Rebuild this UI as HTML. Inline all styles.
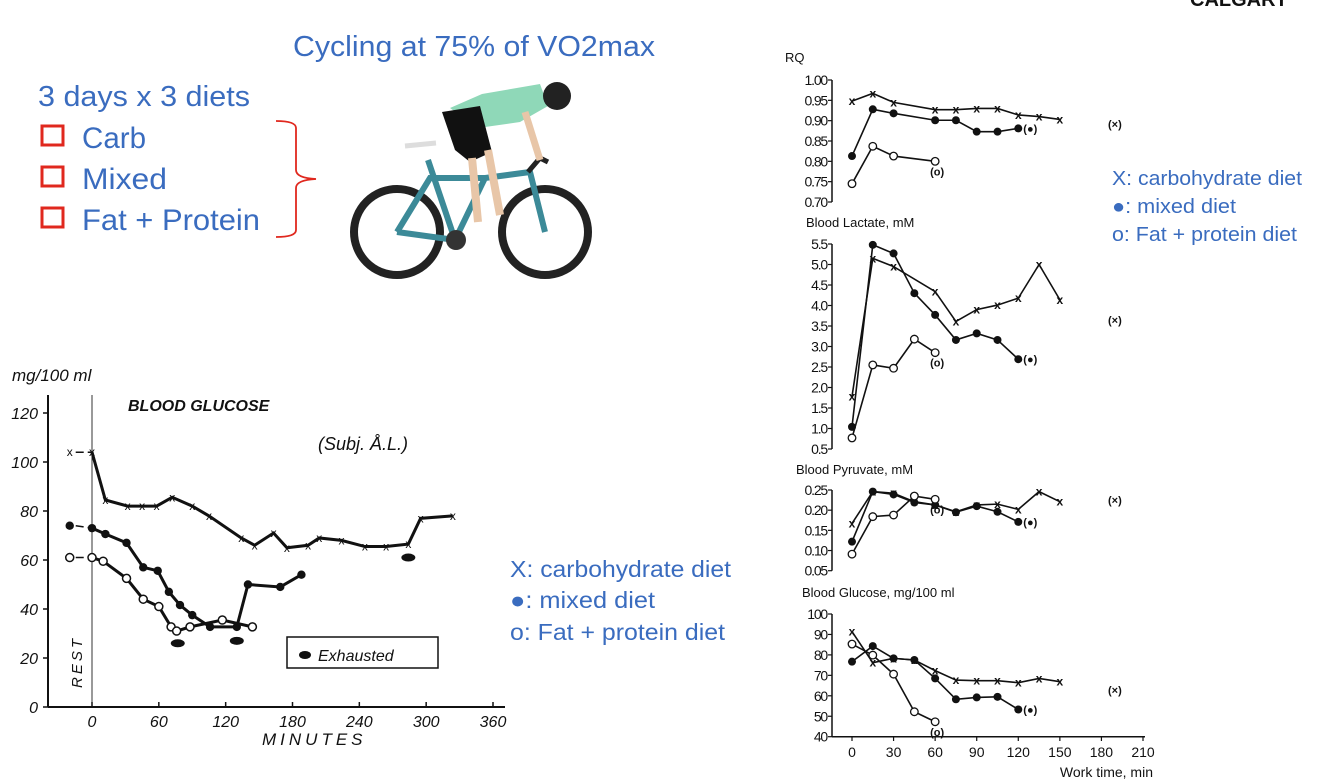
<!DOCTYPE html>
<html><head><meta charset="utf-8"><style>
html,body{margin:0;padding:0;background:#fff;}
svg{display:block;}
.b{fill:#3a6cbf;font-family:"Liberation Sans",sans-serif;}
.k{fill:#111;font-family:"Liberation Sans",sans-serif;}
.hand{fill:#111;font-family:"Liberation Sans",sans-serif;font-style:italic;}
</style></head><body>
<svg id="s" width="1334" height="780" viewBox="0 0 1334 780" xmlns="http://www.w3.org/2000/svg">
<text x="1190" y="6" class="k" font-weight="bold" font-size="20">CALGARY</text>
<text x="293" y="56" class="b" font-size="29" textLength="362" lengthAdjust="spacingAndGlyphs">Cycling at 75% of VO2max</text>
<text x="38" y="106" class="b" font-size="29" textLength="212" lengthAdjust="spacingAndGlyphs">3 days x 3 diets</text>
<g fill="none" stroke="#e0281e" stroke-width="3">
<rect x="42" y="126" width="21" height="19"/>
<rect x="42" y="167" width="21" height="19"/>
<rect x="42" y="208" width="21" height="19"/>
<path d="M276 121 Q296 121 296 128 L296 170 Q296 178 316 179 Q296 180 296 188 L296 230 Q296 237 276 237" stroke-width="1.8"/>
</g>
<text x="82" y="148" class="b" font-size="30" textLength="64" lengthAdjust="spacingAndGlyphs">Carb</text>
<text x="82" y="189" class="b" font-size="30" textLength="85" lengthAdjust="spacingAndGlyphs">Mixed</text>
<text x="82" y="230" class="b" font-size="30" textLength="178" lengthAdjust="spacingAndGlyphs">Fat + Protein</text>
<g>
<circle cx="397" cy="232" r="43" fill="none" stroke="#222" stroke-width="8"/>
<circle cx="545" cy="232" r="43" fill="none" stroke="#222" stroke-width="8"/>
<path d="M397 232 L455 240 L485 178 L530 172 L545 232 M455 240 L428 160 M485 178 L430 178 L397 232" fill="none" stroke="#3c8a98" stroke-width="6"/>
<path d="M528 172 L540 158 L548 162" fill="none" stroke="#222" stroke-width="5"/>
<path d="M405 146 L436 143" stroke="#ddd" stroke-width="5"/>
<path d="M450 108 L482 94 L540 84 L548 106 L520 122 L478 128 Z" fill="#8fd8b8"/>
<path d="M442 112 L480 106 L492 152 L470 162 L455 150 Z" fill="#111"/>
<path d="M472 158 L478 222 M488 150 L500 215" stroke="#e8c6a8" stroke-width="8" fill="none"/>
<path d="M525 112 L540 160" stroke="#e8c6a8" stroke-width="7"/>
<circle cx="557" cy="96" r="14" fill="#222"/>
<circle cx="456" cy="240" r="10" fill="#333"/>
</g>

<g id="L"></g>
<text x="12" y="381" class="hand" font-size="17">mg/100 ml</text>
<text x="128" y="411" class="hand" font-weight="bold" font-size="16">BLOOD GLUCOSE</text>
<text x="318" y="450" class="hand" font-size="18">(Subj. Å.L.)</text>
<text x="0" y="0" class="hand" font-size="15" transform="translate(82,688) rotate(-90)" letter-spacing="3">REST</text>
<text x="262" y="745" class="hand" font-size="17" letter-spacing="4">MINUTES</text>
<rect x="287" y="637" width="151" height="31" fill="none" stroke="#111" stroke-width="1.5"/>
<ellipse cx="305" cy="655" rx="6" ry="4" fill="#111"/>
<text x="318" y="661" class="hand" font-size="16">Exhausted</text>

<text x="510" y="577" class="b" font-size="23" textLength="221" lengthAdjust="spacingAndGlyphs">X: carbohydrate diet</text>
<text x="510" y="608" class="b" font-size="23" textLength="145" lengthAdjust="spacingAndGlyphs">●: mixed diet</text>
<text x="510" y="640" class="b" font-size="23" textLength="215" lengthAdjust="spacingAndGlyphs">o: Fat + protein diet</text>
<text x="1112" y="185" class="b" font-size="20" textLength="190" lengthAdjust="spacingAndGlyphs">X: carbohydrate diet</text>
<text x="1112" y="213" class="b" font-size="20" textLength="124" lengthAdjust="spacingAndGlyphs">●: mixed diet</text>
<text x="1112" y="241" class="b" font-size="20" textLength="185" lengthAdjust="spacingAndGlyphs">o: Fat + protein diet</text>

<g id="R"></g>
</svg>
<script>
// ---- Left chart data ----
const lCarbT=[-20,0,12,32,45,58,72,90,105,134,146,163,175,194,204,224,245,264,284,295,324];
const lCarbV=[104,104,84.5,82,82,82,85.6,82,78,69,66,71,65,66,69,68,65.5,65.5,66.5,77,78];
const lMixT=[-20,0,12,31,46,59,69,79,90,106,130,140,169,188];
const lMixV=[74,73,70.6,67,57,55.6,47,41.6,37.5,32.7,32.7,50,49,54];
const lFatT=[-20,0,10,31,46,60,71,76,88,117,144];
const lFatV=[61,61,59.5,52.5,44,41,32.7,31,32.7,35.5,32.7];
const lExhT=[77,130,284];
const lExhV=[26,27,61];
const lYTicks=[0,20,40,60,80,100,120];
const lXTicks=[0,60,120,180,240,300,360];

// ---- Right panels data ----
const rT=[0,15,30,45,60,75,90,105,120,135,150];
const rqCarbT=[0,15,30,60,75,90,105,120,135,150];
const rqCarb=[0.948,0.967,0.945,0.927,0.927,0.93,0.93,0.914,0.91,0.903];
const rqMixT=[0,15,30,60,75,90,105,120];
const rqMix=[0.813,0.928,0.918,0.901,0.901,0.873,0.873,0.881];
const rqFatT=[0,15,30,60];
const rqFat=[0.745,0.837,0.813,0.80];
const lacCarb=[1.78,5.15,4.95,null,4.34,3.61,3.9,4.01,4.18,5.0,4.14];
const lacMix=[1.04,5.48,5.27,4.3,3.77,3.16,3.32,3.16,2.69];
const lacFat=[0.77,2.55,2.47,3.18,2.85];
const pyrCarb=[0.167,0.246,0.242,0.221,0.213,0.196,0.213,0.215,0.202,0.246,0.221];
const pyrMix=[0.122,0.246,0.239,0.219,0.213,0.195,0.21,0.196,0.171];
const pyrFat=[0.091,0.184,0.188,0.235,0.227];
const gluCarb=[91.4,76.2,78.3,77.5,72.3,67.7,67.4,67.4,66.4,68.5,66.9];
const gluMix=[76.7,84.3,78.3,77.5,68.5,58.3,59.2,59.5,53.3];
const gluFat=[85.3,79.9,70.6,52.2,47.3];
const rXTicks=[0,30,60,90,120,150,180,210];
const rqTicks=[0.70,0.75,0.80,0.85,0.90,0.95,1.00];
const lacTicks=[0.5,1.0,1.5,2.0,2.5,3.0,3.5,4.0,4.5,5.0,5.5];
const pyrTicks=[0.05,0.10,0.15,0.20,0.25];
const gluTicks=[40,50,60,70,80,90,100];

const NS="http://www.w3.org/2000/svg";
function mk(parent,tag,attrs){const e=document.createElementNS(NS,tag);for(const k in attrs)e.setAttribute(k,attrs[k]);parent.appendChild(e);return e;}

const L=document.getElementById('L');
const lx=t=>92+t*(401/360);
const ly=v=>707-v*(294/120);
let e;
e=mk(L,'line',{x1:48,y1:395,x2:48,y2:707,stroke:'#111','stroke-width':2});


e=mk(L,'line',{x1:48,y1:707,x2:505,y2:707,stroke:'#111','stroke-width':2});


e=mk(L,'line',{x1:92,y1:395,x2:92,y2:707,stroke:'#333','stroke-width':1});


lYTicks.forEach(v=>{
 mk(L,'line',{x1:43,y1:ly(v),x2:48,y2:ly(v),stroke:'#111','stroke-width':1.5});
 e=mk(L,'text',{x:38,y:ly(v)+6,'text-anchor':'end','font-size':16,class:'hand'});e.textContent=v;
 
 
});
lXTicks.forEach(t=>{
 mk(L,'line',{x1:lx(t),y1:707,x2:lx(t),y2:702,stroke:'#111','stroke-width':1.5});
 e=mk(L,'text',{x:lx(t),y:727,'text-anchor':'middle','font-size':16,class:'hand'});e.textContent=t;
 
 
});
function lSeries(T,V,kind,name){
 const pts=T.map((t,i)=>[lx(t),ly(V[i])]);
 e=mk(L,'polyline',{points:pts.slice(1).map(p=>p.join(',')).join(' '),fill:'none',stroke:'#111','stroke-width':3});
 
 
 mk(L,'line',{x1:pts[0][0]+6,y1:pts[0][1],x2:pts[1][0],y2:pts[1][1],stroke:'#111','stroke-width':1.5,'stroke-dasharray':'8 4'});
 pts.forEach(p=>{
  if(kind==='x'){e=mk(L,'text',{x:p[0],y:p[1]+4,'text-anchor':'middle','font-size':12,class:'k'});e.textContent='x';}
  else if(kind==='f'){e=mk(L,'circle',{cx:p[0],cy:p[1],r:4.2,fill:'#111'});}
  else{e=mk(L,'circle',{cx:p[0],cy:p[1],r:4,fill:'#fff',stroke:'#111','stroke-width':1.5});}
  
  
 });
}
lSeries(lCarbT,lCarbV,'x','left-carb');
lSeries(lMixT,lMixV,'f','left-mixed');
lSeries(lFatT,lFatV,'o','left-fat');
lExhT.forEach((t,i)=>{
 e=mk(L,'ellipse',{cx:lx(t),cy:ly(lExhV[i]),rx:7,ry:4,fill:'#111'});
 
 
});

const R=document.getElementById('R');
const rx=t=>852+t*(291/210);
function panel(name,title,tx,ty,ticks,y0,y1,v0,v1,dec,series,rlabelY){
 const py=v=>y0+(v-v0)*(y1-y0)/(v1-v0);
 const g=mk(R,'g',{});
 
 
 e=mk(g,'text',{x:tx,y:ty,'font-size':13,class:'k'});e.textContent=title;
 
 
 const top=py(ticks[ticks.length-1]),bot=py(ticks[0]);
 e=mk(g,'line',{x1:832,y1:top,x2:832,y2:bot,stroke:'#111','stroke-width':1.5});
 
 
 ticks.forEach(v=>{
  mk(g,'line',{x1:828,y1:py(v),x2:832,y2:py(v),stroke:'#111','stroke-width':1.2});
  e=mk(g,'text',{x:827,y:py(v)+5,'text-anchor':'end','font-size':14,class:'k','letter-spacing':'-1.2'});e.textContent=v.toFixed(dec);
  
  
 });
 series.forEach(([T,V,kind,sn])=>{
  const pts=[];T.forEach((t,i)=>{if(V[i]!=null)pts.push([rx(t),py(V[i])]);});
  e=mk(g,'polyline',{points:pts.map(p=>p.join(',')).join(' '),fill:'none',stroke:'#111','stroke-width':1.6});
  
  
  pts.forEach(p=>{
   if(kind==='x'){e=mk(g,'text',{x:p[0],y:p[1]+4,'text-anchor':'middle','font-size':12,'font-weight':'bold',class:'k'});e.textContent='x';}
   else if(kind==='f'){e=mk(g,'circle',{cx:p[0],cy:p[1],r:4,fill:'#111'});}
   else{e=mk(g,'circle',{cx:p[0],cy:p[1],r:3.8,fill:'#fff',stroke:'#111','stroke-width':1.3});}
   
   
  });
  if(sn!=='carb'&&pts.length){
   const p=pts[pts.length-1];
   e=mk(g,'text',{x:sn==='mixed'?p[0]+5:p[0]-5,y:sn==='mixed'?p[1]+4:p[1]+14,'font-size':11,'font-weight':'bold',class:'k'});e.textContent=sn==='mixed'?'(●)':'(o)';
   
   
  }
 });
 e=mk(g,'text',{x:1108,y:rlabelY,'font-size':11,'font-weight':'bold',class:'k'});e.textContent='(×)';
 
 
}
panel('rq','RQ',785,62,rqTicks,202,80,0.70,1.00,2,[[rqCarbT,rqCarb,'x','carb'],[rqMixT,rqMix,'f','mixed'],[rqFatT,rqFat,'o','fat']],128);
panel('lactate','Blood  Lactate, mM',806,227,lacTicks,449,244,0.5,5.5,1,[[rT,lacCarb,'x','carb'],[rT,lacMix,'f','mixed'],[rT,lacFat,'o','fat']],324);
panel('pyruvate','Blood  Pyruvate, mM',796,474,pyrTicks,570.7,490,0.05,0.25,2,[[rT,pyrCarb,'x','carb'],[rT,pyrMix,'f','mixed'],[rT,pyrFat,'o','fat']],504);
panel('glucose','Blood  Glucose, mg/100 ml',802,597,gluTicks,736.7,614,40,100,0,[[rT,gluCarb,'x','carb'],[rT,gluMix,'f','mixed'],[rT,gluFat,'o','fat']],694);
e=mk(R,'line',{x1:832,y1:736.7,x2:1145,y2:736.7,stroke:'#111','stroke-width':1.5});


rXTicks.forEach(t=>{
 mk(R,'line',{x1:rx(t),y1:736.7,x2:rx(t),y2:741,stroke:'#111','stroke-width':1.2});
 e=mk(R,'text',{x:rx(t),y:757,'text-anchor':'middle','font-size':14,class:'k'});e.textContent=t;
 
 
});
e=mk(R,'text',{x:1153,y:777,'text-anchor':'end','font-size':14,class:'k'});e.textContent='Work  time, min';


</script>
</body></html>
